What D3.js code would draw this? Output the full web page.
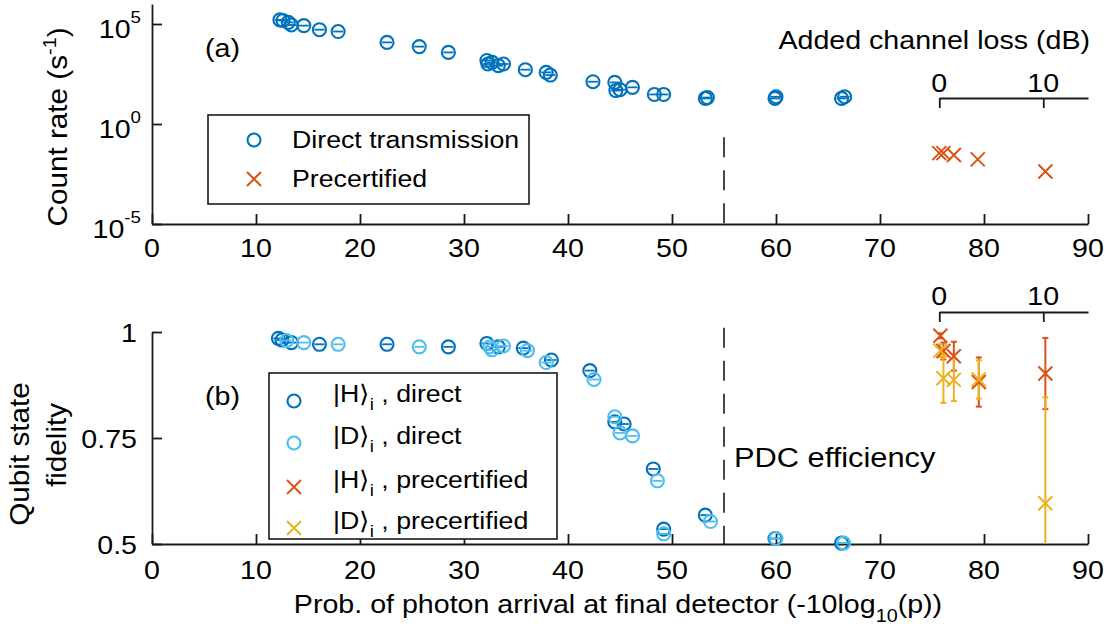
<!DOCTYPE html>
<html><head><meta charset="utf-8">
<script src="https://cdn.jsdelivr.net/npm/d3@7"></script>
<style>
body{margin:0;background:#fff}
svg{display:block}
text{font-family:"Liberation Sans",Arial,Helvetica,sans-serif;fill:#000}
</style>
</head><body>
<svg id="c" width="1107" height="628"></svg>
<script>
// ---------- data ----------
const xTicks = [0, 10, 20, 30, 40, 50, 60, 70, 80, 90];
const rateTicks = [1e-5, 1, 1e5];
const rateTickExp = ["-5", "0", "5"];
const fidTicks = [0.5, 0.75, 1];
const fidTickLabels = ["0.5", "0.75", "1"];
const lossTicks = [0, 10];
const lossZero = 75.7;          // x position corresponding to 0 dB added loss
const pdcEfficiency = 55;
const pdcTopRange = [1e-5, 0.22];
const pdcBottomRange = [0.5, 1.01];

// panel (a): count rate, direct transmission
const directX = [12.3, 12.6, 13.1, 13.4, 14.6, 16.1, 17.9, 22.6, 25.7, 28.5,
  32.2, 32.3, 32.7, 33.3, 33.8, 35.9, 37.9, 38.3, 42.4, 44.5,
  44.6, 45.0, 46.2, 48.3, 49.2, 53.2, 53.4, 59.9, 60.0, 66.3, 66.6];
const directRate = [1.6e5, 1.5e5, 1.2e5, 8.9e4, 8.3e4, 5.2e4, 4.2e4, 1.2e4, 7.4e3, 3.8e3,
  1.5e3, 1.0e3, 1.2e3, 830, 1.0e3, 520, 380, 280, 130, 120,
  47, 52, 68, 30, 30, 19, 21, 19, 23, 19, 23];
// panel (a): precertified
const precertX = [75.7, 76.1, 77.1, 79.4, 85.9];
const precertRate = [0.035, 0.035, 0.028, 0.017, 0.0042];

// panel (b): fidelity, |H>_i direct
const hDirectX = [12.15, 12.5, 13.4, 16.1, 22.6, 28.5, 32.2, 33.3, 35.7, 38.4,
  42.1, 44.5, 45.4, 48.2, 49.2, 53.2, 59.9, 66.3];
const hDirectF = [0.985, 0.981, 0.975, 0.971, 0.971, 0.965, 0.973, 0.965, 0.962, 0.934,
  0.909, 0.788, 0.783, 0.677, 0.535, 0.568, 0.513, 0.502];
// |D>_i direct
const dDirectX = [12.95, 14.6, 17.9, 25.7, 32.5, 32.7, 33.8, 36.1, 37.9, 42.5,
  44.5, 45.0, 46.2, 48.6, 49.2, 53.7, 60.0, 66.5];
const dDirectF = [0.98, 0.975, 0.971, 0.965, 0.965, 0.958, 0.967, 0.956, 0.928, 0.888,
  0.800, 0.762, 0.755, 0.649, 0.524, 0.553, 0.513, 0.502];
// |H>_i precertified
const hPreX = [75.8, 76.1, 77.1, 79.5, 85.9];
const hPreF = [0.991, 0.955, 0.943, 0.882, 0.902];
const hPreErr = [0.006, 0.02, 0.034, 0.058, 0.084];
// |D>_i precertified
const dPreX = [75.8, 76.1, 77.1, 79.5, 85.9];
const dPreF = [0.956, 0.891, 0.887, 0.888, 0.596];
const dPreErr = [0.015, 0.058, 0.05, 0.045, 0.25];

// ---------- styling ----------
const C_DARK = "#0072BD", C_LIGHT = "#4DBEEE", C_ORANGE = "#D95319", C_YELLOW = "#EDB120";
const AX = "#1a1a1a";
const SX = 1.1;

const svg = d3.select("#c");

function label(g, x, y, parts, o = {}) {
  const t = g.append("text")
    .attr("transform", `translate(${x},${y}) rotate(${o.rot || 0}) scale(${SX},1)`)
    .attr("font-size", o.size || 26)
    .attr("text-anchor", o.anchor || "start");
  let cur = 0;
  parts.forEach(p => {
    if (typeof p === "string") p = { t: p };
    const sh = p.shift || 0;
    const ts = t.append("tspan").attr("dy", sh - cur).text(p.t);
    if (p.size) ts.attr("font-size", p.size);
    cur = sh;
  });
  return t;
}

// ---------- scales ----------
const x = d3.scaleLinear().domain([0, 90]).range([152, 1088]);
const yTop = d3.scaleLog().domain([1e-5, 1e6]).range([224, 4]);
const yBot = d3.scaleLinear().domain([0.5, 1]).range([544, 332]);
const loss = d3.scaleLinear().domain([0, 90 - lossZero]).range([x(lossZero), x(90)]);

function styleAxis(g) {
  g.selectAll("path,line").attr("stroke", AX).attr("stroke-width", 1.8);
  g.select(".domain").attr("fill", "none");
}

// ---------- panel (a) ----------
const gA = svg.append("g");
gA.append("g").attr("transform", `translate(0,${yTop(1e-5)})`)
  .call(d3.axisBottom(x).tickValues(xTicks).tickSizeInner(-10).tickSizeOuter(0).tickFormat(""))
  .call(styleAxis);
gA.append("g").attr("transform", `translate(${x(0)},0)`)
  .call(d3.axisLeft(yTop).tickValues(rateTicks).tickSizeInner(-10).tickSizeOuter(0).tickFormat(""))
  .call(styleAxis);
xTicks.forEach(v => label(gA, x(v), yTop(1e-5) + 33, [String(v)], { anchor: "middle" }));
rateTicks.forEach((v, i) => label(gA, 141, yTop(v) + 14,
  ["10", { t: rateTickExp[i], shift: -15, size: 17 }], { anchor: "end" }));
label(gA, 67, 127, ["Count rate (s", { t: "-1", shift: -11, size: 18 }, { t: ")", shift: 0 }],
  { rot: -90, anchor: "middle", size: 27 });
label(gA, 205, 57, ["(a)"]);

// dashed PDC line
gA.append("line").attr("x1", x(pdcEfficiency)).attr("x2", x(pdcEfficiency))
  .attr("y1", yTop(pdcTopRange[1])).attr("y2", yTop(pdcTopRange[0]))
  .attr("stroke", AX).attr("stroke-width", 1.6).attr("stroke-dasharray", "20,13");

// secondary loss axis (a)
gA.append("g").attr("transform", "translate(0,98)")
  .call(d3.axisTop(loss).tickValues(lossTicks).tickSizeInner(-10).tickSizeOuter(0).tickFormat(""))
  .call(styleAxis);
lossTicks.forEach(v => label(gA, loss(v), 92, [String(v)], { anchor: "middle" }));
label(gA, 1090, 49, ["Added channel loss (dB)"], { anchor: "end" });

function drawCircles(g, xs, ys, ys_scale, color) {
  const s = g.append("g").selectAll("g").data(d3.zip(xs, ys)).join("g")
    .attr("transform", d => `translate(${x(d[0])},${ys_scale(d[1])})`);
  s.append("circle").attr("r", 6.5).attr("fill", "none").attr("stroke", color).attr("stroke-width", 2.1);
  s.append("line").attr("x1", -5).attr("x2", 5).attr("stroke", color).attr("stroke-width", 1.8);
}
function drawCrosses(g, xs, ys, ys_scale, color) {
  g.append("g").selectAll("path").data(d3.zip(xs, ys)).join("path")
    .attr("transform", d => `translate(${x(d[0])},${ys_scale(d[1])})`)
    .attr("d", "M-7,-7L7,7M-7,7L7,-7").attr("stroke", color).attr("stroke-width", 2).attr("fill", "none");
}
function drawErr(g, xs, ys, es, color) {
  const s = g.append("g").selectAll("g").data(d3.zip(xs, ys, es)).join("g");
  s.append("line").attr("x1", d => x(d[0])).attr("x2", d => x(d[0]))
    .attr("y1", d => yBot(Math.min(1, d[1] + d[2]))).attr("y2", d => yBot(Math.max(0.5, d[1] - d[2])))
    .attr("stroke", color).attr("stroke-width", 2);
  s.filter(d => d[1] + d[2] <= 1).append("line")
    .attr("x1", d => x(d[0]) - 3).attr("x2", d => x(d[0]) + 3)
    .attr("y1", d => yBot(d[1] + d[2])).attr("y2", d => yBot(d[1] + d[2]))
    .attr("stroke", color).attr("stroke-width", 2);
  s.filter(d => d[1] - d[2] >= 0.5).append("line")
    .attr("x1", d => x(d[0]) - 3).attr("x2", d => x(d[0]) + 3)
    .attr("y1", d => yBot(d[1] - d[2])).attr("y2", d => yBot(d[1] - d[2]))
    .attr("stroke", color).attr("stroke-width", 2);
}

drawCircles(gA, directX, directRate, yTop, C_DARK);
drawCrosses(gA, precertX, precertRate, yTop, C_ORANGE);

// legend (a)
const legA = gA.append("g");
legA.append("rect").attr("x", 208).attr("y", 115).attr("width", 321).attr("height", 89)
  .attr("fill", "#fff").attr("stroke", AX).attr("stroke-width", 1.6);
legA.append("circle").attr("cx", 254).attr("cy", 140).attr("r", 6.5).attr("fill", "none")
  .attr("stroke", C_DARK).attr("stroke-width", 2.1);
legA.append("path").attr("transform", "translate(254,179)").attr("d", "M-7,-7L7,7M-7,7L7,-7")
  .attr("stroke", C_ORANGE).attr("stroke-width", 2);
label(legA, 292, 148, ["Direct transmission"], { size: 24.3 });
label(legA, 292, 187, ["Precertified"], { size: 24.3 });

// ---------- panel (b) ----------
const gB = svg.append("g");
gB.append("g").attr("transform", `translate(0,${yBot(0.5)})`)
  .call(d3.axisBottom(x).tickValues(xTicks).tickSizeInner(-10).tickSizeOuter(0).tickFormat(""))
  .call(styleAxis);
gB.append("g").attr("transform", `translate(${x(0)},0)`)
  .call(d3.axisLeft(yBot).tickValues(fidTicks).tickSizeInner(-10).tickSizeOuter(0).tickFormat(""))
  .call(styleAxis);
xTicks.forEach(v => label(gB, x(v), yBot(0.5) + 35, [String(v)], { anchor: "middle" }));
fidTicks.forEach((v, i) => label(gB, 137, yBot(v) + 9.5, [fidTickLabels[i]], { anchor: "end" }));
label(gB, 29, 454, ["Qubit state"], { rot: -90, anchor: "middle", size: 27 });
label(gB, 66, 445, ["fidelity"], { rot: -90, anchor: "middle", size: 27 });
label(gB, 205, 405, ["(b)"]);
label(gB, 618, 613, ["Prob. of photon arrival at final detector (-10log",
  { t: "10", shift: 9, size: 18 }, { t: "(p))", shift: 0 }], { anchor: "middle" });

gB.append("line").attr("x1", x(pdcEfficiency)).attr("x2", x(pdcEfficiency))
  .attr("y1", yBot(pdcBottomRange[1])).attr("y2", yBot(pdcBottomRange[0]))
  .attr("stroke", AX).attr("stroke-width", 1.6).attr("stroke-dasharray", "20,13");
label(gB, x(pdcEfficiency) + 10, 467, ["PDC efficiency"], { size: 28 });

gB.append("g").attr("transform", "translate(0,312)")
  .call(d3.axisTop(loss).tickValues(lossTicks).tickSizeInner(-10).tickSizeOuter(0).tickFormat(""))
  .call(styleAxis);
lossTicks.forEach(v => label(gB, loss(v), 305, [String(v)], { anchor: "middle" }));

drawCircles(gB, hDirectX, hDirectF, yBot, C_DARK);
drawCircles(gB, dDirectX, dDirectF, yBot, C_LIGHT);
drawErr(gB, hPreX, hPreF, hPreErr, C_ORANGE);
drawErr(gB, dPreX, dPreF, dPreErr, C_YELLOW);
drawCrosses(gB, hPreX, hPreF, yBot, C_ORANGE);
drawCrosses(gB, dPreX, dPreF, yBot, C_YELLOW);

// legend (b)
const legB = gB.append("g");
legB.append("rect").attr("x", 269).attr("y", 373).attr("width", 288).attr("height", 166)
  .attr("fill", "#fff").attr("stroke", AX).attr("stroke-width", 1.6);
const legItems = [
  { y: 401, color: C_DARK, mark: "o", state: "|H⟩", txt: " , direct" },
  { y: 443, color: C_LIGHT, mark: "o", state: "|D⟩", txt: " , direct" },
  { y: 487, color: C_ORANGE, mark: "x", state: "|H⟩", txt: " , precertified" },
  { y: 528, color: C_YELLOW, mark: "x", state: "|D⟩", txt: " , precertified" }
];
legItems.forEach(it => {
  if (it.mark === "o") legB.append("circle").attr("cx", 294).attr("cy", it.y).attr("r", 6.5)
    .attr("fill", "none").attr("stroke", it.color).attr("stroke-width", 2.1);
  else legB.append("path").attr("transform", `translate(294,${it.y})`).attr("d", "M-7,-7L7,7M-7,7L7,-7")
    .attr("stroke", it.color).attr("stroke-width", 2);
  label(legB, 333, it.y + 1, [it.state, { t: "i", shift: 8, size: 17 }, { t: it.txt, shift: 0 }], { size: 24.3 });
});
</script>
</body></html>
